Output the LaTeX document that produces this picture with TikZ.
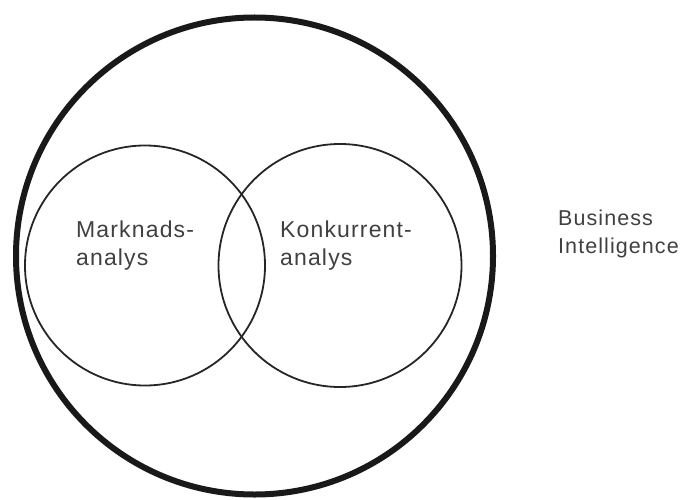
\documentclass[tikz,border=0pt]{standalone}
\usepackage{fontspec}
\setmainfont{Liberation Sans}[LetterSpace=5]
\begin{document}
\begin{tikzpicture}[x=1pt,y=-1pt,
  outer/.style={circle,draw=black!90,line width=6pt,inner sep=0pt},
  inner/.style={circle,draw=black!85,line width=1.8pt,inner sep=0pt},
  lbl/.style={anchor=base west,inner sep=0pt,text=black!75,font=\fontsize{23}{28}\selectfont},
  bi/.style={anchor=base west,inner sep=0pt,text=black!75,font=\fontsize{21.5}{28}\selectfont}]
\useasboundingbox (0,0) rectangle (682,500);
\node[outer,minimum size=477pt] (big) at (254.5,256) {};
\node[inner,minimum size=240pt] (mark) at (145,265.5) {};
\node[inner,minimum size=243pt] (konk) at (340,265.5) {};
\node[lbl] (m1) at (76,237) {Marknads-};
\node[lbl] (m2) at (76,265) {analys};
\node[lbl] (k1) at (280,237) {Konkurrent-};
\node[lbl] (k2) at (280,265) {analys};
\node[bi] (b1) at (558,225) {Business};
\node[bi] (b2) at (558,253) {Intelligence};
\end{tikzpicture}
\end{document}
